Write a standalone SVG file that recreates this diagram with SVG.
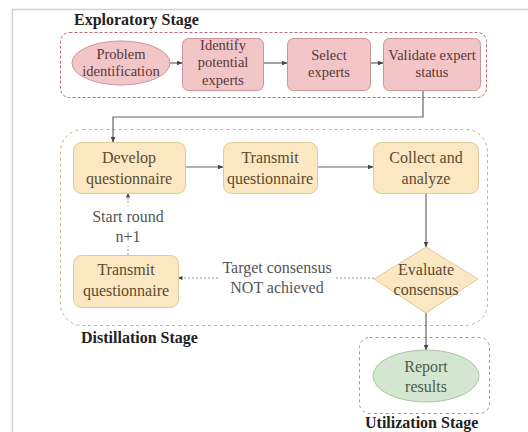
<svg xmlns="http://www.w3.org/2000/svg" width="528" height="432" viewBox="0 0 528 432">
<style>
text{font-family:"Liberation Serif","Times New Roman",serif;text-anchor:middle}
.stage{font-weight:bold;font-size:16px;fill:#222;text-anchor:start}
.ex{font-size:14.5px;fill:#5a3636}
.di{font-size:16px;fill:#5a4a30}
.lb{font-size:16px;fill:#555}
.pink{fill:#f2c6c6;stroke:#c8969a;stroke-width:1}
.yel{fill:#fbe8c2;stroke:#e0c995;stroke-width:1}
.grn{fill:#d3e6cf;stroke:#a9c2a4;stroke-width:1}
.conn{fill:none;stroke:#666;stroke-width:1.2}
.dot{fill:none;stroke:#999;stroke-width:1;stroke-dasharray:2 2}
</style>
<defs>
<marker id="ah" viewBox="0 0 10 10" refX="9" refY="5" markerWidth="5" markerHeight="5" orient="auto"><path d="M0,1 L10,5 L0,9 z" fill="#444"/></marker>
</defs>
<rect x="0" y="0" width="528" height="432" fill="#fff"/>
<rect x="12.5" y="9.5" width="540" height="440" fill="none" stroke="#d0d0d0" stroke-width="1.5"/>

<g id="stages">
<rect x="60.5" y="32.5" width="426" height="65" rx="9" fill="none" stroke="#b86a74" stroke-width="1" stroke-dasharray="3 2"/>
<text class="stage" x="74" y="25">Exploratory Stage</text>
<rect x="60.5" y="129.5" width="427" height="196" rx="22" fill="none" stroke="#c9b083" stroke-width="1" stroke-dasharray="3 3"/>
<text class="stage" x="81" y="343">Distillation Stage</text>
<rect x="359.5" y="337.5" width="130" height="76" rx="10" fill="none" stroke="#999" stroke-width="1" stroke-dasharray="3 3"/>
<text class="stage" x="365" y="428">Utilization Stage</text>
</g>

<g id="connectors">
<line class="conn" x1="170" y1="63" x2="182" y2="63" marker-end="url(#ah)"/>
<line class="conn" x1="263" y1="63" x2="287" y2="63" marker-end="url(#ah)"/>
<line class="conn" x1="370" y1="63" x2="383" y2="63" marker-end="url(#ah)"/>
<polyline class="conn" points="423,90 423,117 113,117 113,142" marker-end="url(#ah)"/>
<line class="conn" x1="185" y1="167" x2="223" y2="167" marker-end="url(#ah)"/>
<line class="conn" x1="317" y1="167" x2="373" y2="167" marker-end="url(#ah)"/>
<line class="conn" x1="426" y1="193" x2="426" y2="247" marker-end="url(#ah)"/>
<line class="dot" x1="374" y1="278" x2="178" y2="278" marker-end="url(#ah)"/>
<line class="dot" x1="128" y1="255" x2="128" y2="193" marker-end="url(#ah)"/>
<line class="conn" x1="426" y1="313" x2="426" y2="350" marker-end="url(#ah)"/>
<rect x="220" y="257" width="114" height="42" fill="#fff"/>
<text class="lb" x="277" y="273">Target consensus</text>
<text class="lb" x="277" y="293">NOT achieved</text>
<rect x="88" y="206" width="80" height="40" fill="#fff"/>
<text class="lb" x="128" y="222">Start round</text>
<text class="lb" x="128" y="242">n+1</text>
</g>

<g id="problem">
<ellipse class="pink" cx="121" cy="63" rx="49" ry="22"/>
<text class="ex" x="121" y="59">Problem</text>
<text class="ex" x="121" y="76">identification</text>
</g>
<g id="identify">
<rect class="pink" x="182.5" y="38.5" width="81" height="52" rx="6"/>
<text class="ex" x="223" y="50">Identify</text>
<text class="ex" x="223" y="67">potential</text>
<text class="ex" x="223" y="85">experts</text>
</g>
<g id="select">
<rect class="pink" x="287.5" y="38.5" width="83" height="52" rx="6"/>
<text class="ex" x="329" y="60">Select</text>
<text class="ex" x="329" y="77">experts</text>
</g>
<g id="validate">
<rect class="pink" x="383.5" y="38.5" width="97" height="52" rx="6"/>
<text class="ex" x="432" y="60">Validate expert</text>
<text class="ex" x="432" y="77">status</text>
</g>

<g id="develop">
<rect class="yel" x="73.5" y="142.5" width="112" height="51" rx="8"/>
<text class="di" x="129" y="163">Develop</text>
<text class="di" x="129" y="184">questionnaire</text>
</g>
<g id="transmit1">
<rect class="yel" x="223.5" y="142.5" width="94" height="51" rx="8"/>
<text class="di" x="270" y="163">Transmit</text>
<text class="di" x="270" y="184">questionnaire</text>
</g>
<g id="collect">
<rect class="yel" x="373.5" y="142.5" width="105" height="51" rx="8"/>
<text class="di" x="426" y="163">Collect and</text>
<text class="di" x="426" y="184">analyze</text>
</g>
<g id="evaluate">
<polygon class="yel" points="426,247 478,279 426,313 374,279"/>
<text class="di" x="426" y="275">Evaluate</text>
<text class="di" x="426" y="295">consensus</text>
</g>
<g id="transmit2">
<rect class="yel" x="73.5" y="255.5" width="105" height="52" rx="8"/>
<text class="di" x="126" y="275">Transmit</text>
<text class="di" x="126" y="296">questionnaire</text>
</g>

<g id="report">
<ellipse class="grn" cx="426" cy="376" rx="53" ry="26"/>
<text class="di" x="426" y="372" style="fill:#4f5a4a">Report</text>
<text class="di" x="426" y="392" style="fill:#4f5a4a">results</text>
</g>
</svg>
